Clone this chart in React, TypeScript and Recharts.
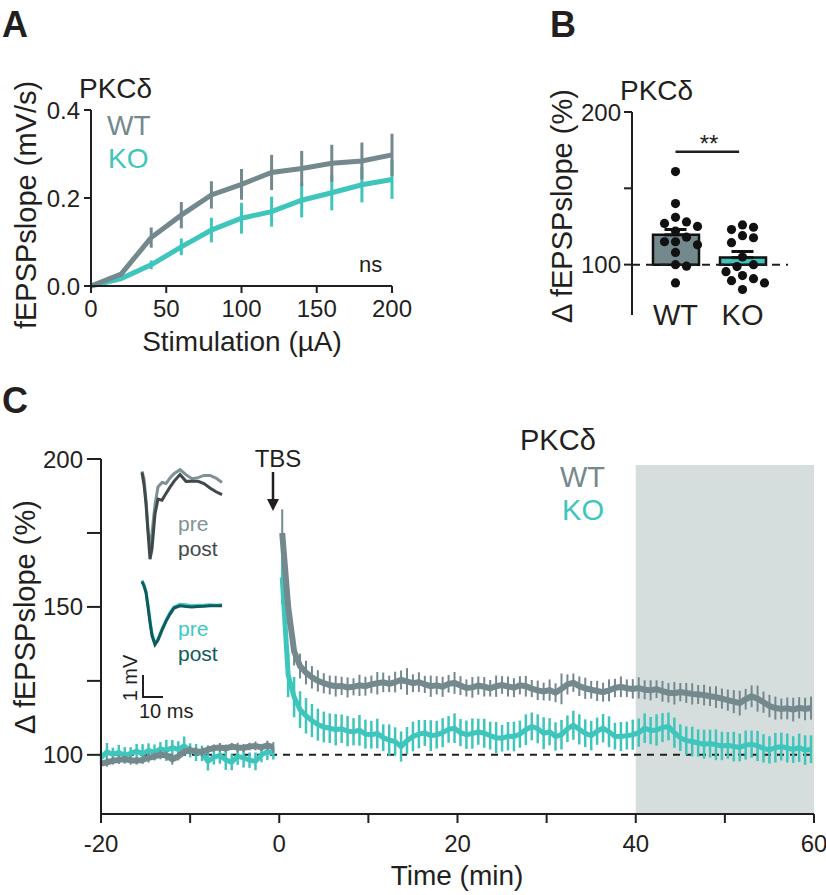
import React from "react";
import {
  LineChart,
  Line,
  ComposedChart,
  Bar,
  Cell,
  Scatter,
  XAxis,
  YAxis,
  ErrorBar,
  ReferenceLine,
  ReferenceArea,
} from "recharts";

const FONT = '"Liberation Sans", Arial, sans-serif';
const INK = "#231f20";
const WT_COLOR = "#74898d";
const KO_COLOR = "#3ec5bc";

// ---- A: input/output curve
const stimUA = [0, 20, 40, 60, 80, 100, 120, 140, 160, 180, 200];
const wtSlope = [0, 0.027, 0.11, 0.161, 0.207, 0.231, 0.258, 0.267, 0.279, 0.284, 0.298];
const wtSlopeSem = [0, 0.004, 0.023, 0.03, 0.031, 0.035, 0.04, 0.04, 0.042, 0.042, 0.048];
const koSlope = [0, 0.017, 0.048, 0.089, 0.127, 0.154, 0.169, 0.195, 0.212, 0.23, 0.242];
const koSlopeSem = [0, 0.003, 0.01, 0.019, 0.028, 0.035, 0.034, 0.039, 0.04, 0.04, 0.044];

// ---- B: LTP magnitude (last 20 min)
const groups = ["WT", "KO"];
const groupMean = [119.5, 104.6];
const groupSem = [3.5, 4.0];
const wtCells = [161, 140, 131, 128, 127, 125, 122, 118, 115, 115, 113, 108, 100, 99, 88];
const koCells = [126, 124.5, 123, 119, 117.6, 114.4, 105, 100, 98.7, 95.4, 92.8, 90.8, 89.5, 88, 83.7];

// ---- C: time course (40 s bins)
const wtPreMean = [97, 97.5, 98, 98.3, 98.5, 98.2, 98, 98.3, 99, 99.5, 100, 99.8, 98.5, 99.5, 101, 101.5, 101.2, 101, 101.8, 102.3, 102.5, 102.2, 102.8, 102.5, 102.3, 102.8, 103, 102.5, 103.2, 102.5];
const wtPreSem = [1.6, 1.5, 1.3, 1.4, 1.2, 1.5, 1.3, 1.4, 1.6, 1.2, 1.5, 1.3, 1.8, 1.4, 1.2, 1.5, 1.3, 1.6, 1.4, 1.2, 1.5, 1.3, 1.2, 1.6, 1.4, 1.3, 1.5, 1.2, 1.6, 1.8];
const koPreMean = [99, 101, 100.2, 100.8, 99.8, 100.5, 101.2, 100.4, 101.5, 100.8, 102, 101.5, 102.5, 101.8, 103, 101.5, 100.8, 100.5, 97.8, 99.2, 99.8, 98.3, 97.5, 99.5, 99, 98.2, 97.8, 100, 101, 100.6];
const koPreSem = [2.4, 3.0, 2.2, 2.6, 2.8, 2.1, 2.5, 3.2, 2.4, 2.7, 2.3, 3.6, 2.5, 2.8, 3.2, 2.4, 2.9, 2.6, 3.1, 2.5, 2.8, 3.4, 2.7, 2.9, 3.3, 2.6, 3.0, 2.5, 2.8, 2.2];

const wtPostMean = [
  175, 150, 135, 130, 127.8, 126.2, 125, 124.2, 123.6, 123.2,
  123.3, 122.8, 123, 123.5, 123.2, 123.8, 124.2, 124.5, 124, 124.6,
  125.3, 124.8, 124.2, 124.6, 123.8, 123.2, 123.5, 123, 124, 124.3,
  123.4, 122.6, 122.8, 123.4, 123, 122.5, 123.2, 123.6, 123.1, 122.7,
  123.5, 123.2, 122.4, 121.8, 121.4, 121.9, 121, 122.3, 123.8, 124.4,
  123.2, 122.5, 122, 121.6, 121.2, 121.8, 122.6, 123, 122.5, 122.3,
  122.6, 122, 121.8, 122.2, 121.5, 121, 120.8, 121.2, 120.9, 120.6,
  120.4, 120.2, 119.8, 119.5, 119, 118.5, 118, 117.5, 118.8, 119.8,
  119, 117.8, 116.5, 115.8, 115.5, 115.7, 115.3, 115.9, 115.5, 115.8,
];
const wtPostSem = [
  8, 6, 4.8, 4.2, 4, 3.8, 3.6, 3.4, 3.2, 3.5,
  3.1, 3.4, 2.9, 3.6, 3.2, 3.0, 3.8, 3.3, 2.8, 3.5,
  3.2, 4.5, 3.0, 3.3, 2.9, 3.6, 3.1, 3.4, 3.0, 3.7,
  3.2, 2.9, 3.5, 3.1, 3.3, 2.8, 3.6, 3.0, 3.4, 3.2,
  3.1, 3.5, 2.9, 3.3, 3.0, 3.6, 3.2, 5.2, 3.4, 3.1,
  3.3, 3.6, 3.0, 3.4, 3.2, 3.7, 3.1, 3.5, 3.0, 3.3,
  3.6, 3.2, 3.4, 3.0, 3.5, 3.3, 3.8, 3.1, 3.4, 3.6,
  3.2, 3.5, 3.3, 3.7, 3.4, 3.6, 3.9, 4.2, 3.5, 3.7,
  4.4, 3.6, 3.8, 3.9, 3.5, 3.7, 4.0, 3.6, 3.8, 3.9,
];
const koPostMean = [
  160, 127, 119.5, 115.3, 113.2, 111.6, 110.2, 109.4, 109, 108.5,
  108.8, 108, 107.8, 108.3, 107, 106.8, 107.2, 105.8, 105, 104.5,
  102.8, 104.8, 106.2, 107, 107.4, 106.5, 106.8, 107.5, 108.6, 109,
  107.5, 106.8, 107.2, 107.8, 107.3, 106.5, 105.8, 105.6, 106.3, 106.2,
  107, 108.5, 109.6, 108.8, 107.3, 107.8, 106.2, 106.8, 108.8, 110,
  108.6, 107.3, 106.5, 108, 109, 107.8, 106.3, 106.2, 106.5, 106.8,
  107.5, 109, 108.2, 108.4, 109.2, 109.6, 107.5, 105.8, 104.8, 104.5,
  104, 103.6, 103.8, 103.4, 103, 103.2, 102.8, 102.5, 103.3, 103.6,
  103, 102.2, 101.7, 102.4, 102.8, 102.3, 101.8, 102.4, 101.6, 101.9,
];
const koPostSem = [
  9, 7.5, 6.8, 6.2, 6, 5.6, 5.4, 5.2, 5, 5.3,
  4.8, 5.1, 4.6, 5.2, 4.9, 4.7, 5.0, 4.5, 5.3, 4.8,
  5.1, 4.6, 5.0, 4.8, 4.4, 5.2, 4.7, 4.9, 4.5, 5.0,
  4.6, 4.8, 5.1, 4.4, 4.9, 4.7, 5.3, 4.5, 4.8, 5.0,
  4.6, 5.2, 4.7, 4.9, 5.4, 4.6, 4.8, 5.0, 4.5, 4.9,
  5.1, 4.7, 5.0, 4.6, 4.8, 5.2, 4.5, 4.9, 4.7, 5.1,
  4.8, 5.0, 4.6, 5.3, 4.9, 4.7, 5.1, 4.5, 4.8, 5.0,
  4.6, 4.9, 4.7, 5.2, 4.8, 4.5, 5.0, 4.7, 4.9, 4.6,
  5.1, 4.8, 4.6, 5.0, 4.7, 4.9, 4.5, 4.8, 5.0, 4.7,
];

// ---- C insets: example fEPSP traces (ms, mV)
const traceMs = [0, 1, 2, 3, 4, 5, 6.5, 8, 10, 12, 14, 16, 19, 22, 25, 28, 31, 34, 37, 40];
const wtPreTrace = [0, -0.33, -1.3, -2.6, -3.45, -2.8, -1.5, -0.7, -0.5, -0.55, -0.3, -0.1, 0.08, -0.15, -0.33, -0.28, -0.18, -0.18, -0.3, -0.5];
const wtPostTrace = [-0.05, -0.6, -1.47, -2.75, -3.97, -3.5, -1.92, -1.25, -1.3, -1.0, -0.71, -0.45, -0.14, -0.45, -0.44, -0.45, -0.55, -0.75, -0.92, -1.05];
const koPreTrace = [0, -0.2, -0.5, -1.1, -1.8, -2.4, -2.85, -2.65, -2.2, -1.8, -1.45, -1.2, -1.08, -1.1, -1.15, -1.12, -1.12, -1.1, -1.12, -1.1];
const koPostTrace = [-0.05, -0.25, -0.55, -1.2, -1.9, -2.5, -2.9, -2.7, -2.25, -1.85, -1.52, -1.25, -1.15, -1.18, -1.2, -1.18, -1.17, -1.15, -1.15, -1.14];

// ---------- tables built from the arrays
const ioData = stimUA.map((s, i) => ({
  s,
  wt: wtSlope[i],
  wtE: wtSlopeSem[i],
  ko: koSlope[i],
  koE: koSlopeSem[i],
}));

const barData = groups.map((g, i) => ({ name: g, range: [100, groupMean[i]] }));
const meanPts = groups.map((g, i) => ({ x: i + 0.5, y: groupMean[i], err: [0, groupSem[i]] }));

// prism-like scatter placement so dots don't overlap
const swarm = (vals: number[], center: number) => {
  const yPx = 203 / 133;
  const xPx = 67;
  const diam = 10;
  const placed: { o: number; v: number }[] = [];
  return vals.map((v) => {
    let o = 0;
    for (let k = 0; k < 30; k++) {
      const step = k === 0 ? 0 : Math.ceil(k / 2) * (k % 2 ? 1 : -1);
      const cand = (step * diam * 0.55) / xPx;
      const ok = placed.every((p) => Math.hypot((p.o - cand) * xPx, (p.v - v) * yPx) >= diam);
      if (ok) {
        o = cand;
        break;
      }
    }
    placed.push({ o, v });
    return { x: center + o, y: v };
  });
};
const dotData = [...swarm(wtCells, 0.5), ...swarm(koCells, 1.5)];

const preTimes = wtPreMean.map((_, i) => -20 + (i * 2) / 3);
const postTimes = wtPostMean.map((_, i) => 1 / 3 + (i * 2) / 3);
const wtPre = preTimes.map((t, i) => ({ t, v: wtPreMean[i], e: wtPreSem[i] }));
const koPre = preTimes.map((t, i) => ({ t, v: koPreMean[i], e: koPreSem[i] }));
const wtPost = postTimes.map((t, i) => ({ t, v: wtPostMean[i], e: wtPostSem[i] }));
const koPost = postTimes.map((t, i) => ({ t, v: koPostMean[i], e: koPostSem[i] }));

const wtTrace = traceMs.map((t, i) => ({ t, pre: wtPreTrace[i], post: wtPostTrace[i] }));
const koTrace = traceMs.map((t, i) => ({ t, pre: koPreTrace[i], post: koPostTrace[i] }));

const axisLine = { stroke: INK, strokeWidth: 2 };
const tickStyle = { fontSize: 24, fill: INK, fontFamily: FONT };

const abs = (left: number, top: number): React.CSSProperties => ({
  position: "absolute",
  left,
  top,
});

const App = () => {
  return (
    <div
      style={{
        position: "absolute",
        left: 0,
        top: 0,
        width: 826,
        height: 895,
        background: "#fff",
        fontFamily: FONT,
      }}
    >
      {/* A */}
      <div style={abs(0, 0)}>
        <LineChart width={420} height={345} data={ioData} margin={{ top: 110, right: 28, left: 31, bottom: 19 }}>
          <XAxis
            dataKey="s"
            type="number"
            domain={[0, 200]}
            ticks={[0, 50, 100, 150, 200]}
            interval={0}
            height={40}
            tickSize={7}
            tickMargin={7}
            axisLine={axisLine}
            tickLine={axisLine}
            tick={tickStyle}
          />
          <YAxis
            type="number"
            domain={[0, 0.4]}
            ticks={[0, 0.2, 0.4]}
            interval={0}
            width={60}
            tickSize={7}
            tickMargin={4}
            tickFormatter={(v: number) => v.toFixed(1)}
            axisLine={axisLine}
            tickLine={axisLine}
            tick={tickStyle}
          />
          <Line dataKey="ko" stroke={KO_COLOR} strokeWidth={5} dot={false} isAnimationActive={false}>
            <ErrorBar dataKey="koE" width={0} stroke={KO_COLOR} strokeWidth={3} />
          </Line>
          <Line dataKey="wt" stroke={WT_COLOR} strokeWidth={5} dot={false} isAnimationActive={false}>
            <ErrorBar dataKey="wtE" width={0} stroke={WT_COLOR} strokeWidth={3} />
          </Line>
        </LineChart>
      </div>

      {/* B */}
      <div style={abs(500, 0)}>
        <ComposedChart width={326} height={345} data={barData} margin={{ top: 112, right: 38, left: 72, bottom: 0 }}>
          <XAxis
            xAxisId="cat"
            dataKey="name"
            padding={{ left: 10, right: 12 }}
            height={30}
            axisLine={false}
            tickLine={false}
            tickSize={0}
            tickMargin={0}
            interval={0}
            tick={(p: any) => (
              <text x={p.x} y={p.y + 10} textAnchor="middle" fontSize={29} fill={INK} fontFamily={FONT}>
                {p.payload.value}
              </text>
            )}
          />
          <XAxis xAxisId="num" dataKey="x" type="number" domain={[0, 2]} padding={{ left: 10, right: 12 }} hide />
          <YAxis
            type="number"
            domain={[67, 200]}
            ticks={[100, 150, 200]}
            interval={0}
            width={60}
            tickSize={8}
            tickMargin={3}
            tickFormatter={(v: number) => (v === 150 ? "" : String(v))}
            axisLine={axisLine}
            tickLine={axisLine}
            tick={tickStyle}
          />
          <Bar xAxisId="cat" dataKey="range" barSize={46} stroke="#111" strokeWidth={2.5} isAnimationActive={false}>
            {barData.map((d) => (
              <Cell key={d.name} fill={d.name === "WT" ? WT_COLOR : KO_COLOR} />
            ))}
          </Bar>
          <ReferenceLine xAxisId="num" y={100} stroke={INK} strokeWidth={2} strokeDasharray="8 6" />
          <Scatter
            xAxisId="num"
            data={meanPts}
            dataKey="y"
            isAnimationActive={false}
            shape={() => <g />}
          >
            <ErrorBar dataKey="err" direction="y" width={11} stroke="#111" strokeWidth={3} />
          </Scatter>
          <Scatter
            xAxisId="num"
            data={dotData}
            dataKey="y"
            isAnimationActive={false}
            shape={(p: any) => <circle cx={p.cx} cy={p.cy} r={4.6} fill="#111" />}
          />
          <ReferenceLine
            xAxisId="num"
            segment={[
              { x: 0.5, y: 174 },
              { x: 1.45, y: 174 },
            ]}
            stroke={INK}
            strokeWidth={2.5}
          />
        </ComposedChart>
      </div>

      {/* C */}
      <div style={abs(0, 380)}>
        <LineChart width={826} height={515} margin={{ top: 79, right: 12, left: 41, bottom: 31 }}>
          <XAxis
            dataKey="t"
            type="number"
            domain={[-20, 60]}
            ticks={[-20, -10, 0, 10, 20, 30, 40, 50, 60]}
            interval={0}
            height={50}
            tickSize={9}
            tickMargin={12}
            tickFormatter={(v: number) => (v % 20 === 0 ? String(v) : "")}
            axisLine={axisLine}
            tickLine={axisLine}
            tick={tickStyle}
            allowDuplicatedCategory={false}
          />
          <YAxis
            type="number"
            domain={[80, 200]}
            ticks={[100, 125, 150, 175, 200]}
            interval={0}
            width={60}
            tickSize={14}
            tickMargin={4}
            tickFormatter={(v: number) => (v % 50 === 0 ? String(v) : "")}
            axisLine={axisLine}
            tickLine={axisLine}
            tick={tickStyle}
          />
          <ReferenceArea x1={40} x2={60} y1={80} y2={198} fill="#d5dedc" fillOpacity={1} stroke="none" />
          <ReferenceLine y={100} stroke={INK} strokeWidth={2} strokeDasharray="7 6" />
          <Line data={koPre} dataKey="v" stroke={KO_COLOR} strokeWidth={5} dot={false} isAnimationActive={false}>
            <ErrorBar dataKey="e" width={0} stroke={KO_COLOR} strokeWidth={2.5} />
          </Line>
          <Line data={koPost} dataKey="v" stroke={KO_COLOR} strokeWidth={5} dot={false} isAnimationActive={false}>
            <ErrorBar dataKey="e" width={0} stroke={KO_COLOR} strokeWidth={2.5} />
          </Line>
          <Line data={wtPre} dataKey="v" stroke={WT_COLOR} strokeWidth={6} dot={false} isAnimationActive={false}>
            <ErrorBar dataKey="e" width={0} stroke={WT_COLOR} strokeWidth={2} />
          </Line>
          <Line data={wtPost} dataKey="v" stroke={WT_COLOR} strokeWidth={6} dot={false} isAnimationActive={false}>
            <ErrorBar dataKey="e" width={0} stroke={WT_COLOR} strokeWidth={2} />
          </Line>
        </LineChart>
      </div>

      {/* C insets */}
      <div style={abs(139, 464)}>
        <LineChart width={86} height={101} data={wtTrace} margin={{ top: 3, right: 3, left: 3, bottom: 3 }}>
          <XAxis dataKey="t" type="number" domain={[0, 40]} hide />
          <YAxis type="number" domain={[-4.1, 0.2]} hide />
          <Line dataKey="pre" stroke="#7f9396" strokeWidth={3} dot={false} isAnimationActive={false} />
          <Line dataKey="post" stroke="#3f494c" strokeWidth={3} dot={false} isAnimationActive={false} />
        </LineChart>
      </div>
      <div style={abs(139, 573)}>
        <LineChart width={86} height={79} data={koTrace} margin={{ top: 3, right: 3, left: 3, bottom: 3 }}>
          <XAxis dataKey="t" type="number" domain={[0, 40]} hide />
          <YAxis type="number" domain={[-3.1, 0.2]} hide />
          <Line dataKey="pre" stroke="#3ec9c0" strokeWidth={3} dot={false} isAnimationActive={false} />
          <Line dataKey="post" stroke="#0f5a5d" strokeWidth={3} dot={false} isAnimationActive={false} />
        </LineChart>
      </div>

      {/* labels */}
      <svg width={826} height={895} style={{ position: "absolute", left: 0, top: 0, pointerEvents: "none" }} fontFamily={FONT} fill={INK}>
        {/* A */}
        <text x={2} y={37} fontSize={36} fontWeight="bold">A</text>
        <text transform="translate(26,205) rotate(-90)" textAnchor="middle" dominantBaseline="central" fontSize={29}>
          fEPSPslope (mV/s)
        </text>
        <text x={242} y={351} textAnchor="middle" fontSize={28}>Stimulation (µA)</text>
        <text x={79} y={98} fontSize={28}>PKCδ</text>
        <text x={107} y={135} fontSize={28} fill={WT_COLOR}>WT</text>
        <text x={108} y={168} fontSize={28} fill={KO_COLOR}>KO</text>
        <text x={359} y={272} fontSize={22}>ns</text>

        {/* B */}
        <text x={550} y={37} fontSize={36} fontWeight="bold">B</text>
        <text x={620} y={100} fontSize={28}>PKCδ</text>
        <text transform="translate(562,206) rotate(-90)" textAnchor="middle" dominantBaseline="central" fontSize={29}>
          Δ fEPSPslope (%)
        </text>
        <text x={709} y={152} textAnchor="middle" fontSize={24}>**</text>

        {/* C */}
        <text x={2} y={413} fontSize={36} fontWeight="bold">C</text>
        <text transform="translate(25,617) rotate(-90)" textAnchor="middle" dominantBaseline="central" fontSize={29}>
          Δ fEPSPslope (%)
        </text>
        <text x={457} y={885} textAnchor="middle" fontSize={28}>Time (min)</text>
        <text x={278} y={467} textAnchor="middle" fontSize={24}>TBS</text>
        <line x1={273} y1={472} x2={273} y2={502} stroke={INK} strokeWidth={2.5} />
        <polygon points="267,499 279,499 273,511" fill={INK} />
        <text x={520} y={450} fontSize={29}>PKCδ</text>
        <text x={605} y={487} textAnchor="end" fontSize={29} fill={WT_COLOR}>WT</text>
        <text x={604} y={520} textAnchor="end" fontSize={29} fill={KO_COLOR}>KO</text>

        <text x={178} y={531} fontSize={21} fill="#7f9396">pre</text>
        <text x={178} y={556} fontSize={21} fill="#3f494c">post</text>
        <text x={178} y={636} fontSize={21} fill="#3ec9c0">pre</text>
        <text x={178} y={661} fontSize={21} fill="#0f5a5d">post</text>
        <path d="M143 675 V697 H163" stroke={INK} strokeWidth={2} fill="none" />
        <text transform="translate(130,678) rotate(-90)" textAnchor="middle" dominantBaseline="central" fontSize={20}>
          1 mV
        </text>
        <text x={139} y={718} fontSize={20}>10 ms</text>
      </svg>
    </div>
  );
};

export default App;
